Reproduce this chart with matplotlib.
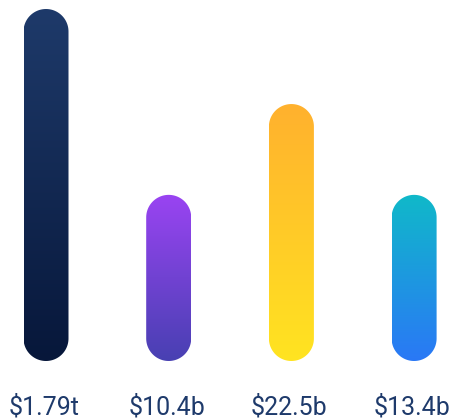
import numpy as np
import matplotlib
matplotlib.use("Agg")
import matplotlib.pyplot as plt
from matplotlib.patches import Polygon
from matplotlib.colors import to_rgb

# ---- data ----
labels = ["$1.79t", "$10.4b", "$22.5b", "$13.4b"]
heights = [100.0, 47.2, 73.0, 47.2]          # relative display heights
top_colors = ["#1e3a6a", "#9a44f2", "#ffb12e", "#10b9c9"]
bottom_colors = ["#07173a", "#4840b2", "#ffe421", "#2a78f6"]

W, H, DPI = 454, 420, 100
fig = plt.figure(figsize=(W / DPI, H / DPI), dpi=DPI)
bottom_px = 59
ax = fig.add_axes([0, bottom_px / H, 1, 1 - bottom_px / H])
ax.set_axis_off()

x0_px, step_px = 46.0, 122.7
xlim = (-x0_px / step_px, (W - x0_px) / step_px)
ymax = 100.0 * (H - bottom_px) / 352.0
ax.set_xlim(*xlim)
ax.set_ylim(0, ymax)

bar_w = 45.0 / step_px
xu_per_px = (xlim[1] - xlim[0]) / W
yu_per_px = ymax / (H - bottom_px)
rx = bar_w / 2
ry = rx / xu_per_px * yu_per_px


def pill(cx, h):
    a_top = np.linspace(0, np.pi, 60)
    a_bot = np.linspace(np.pi, 2 * np.pi, 60)
    top = np.column_stack([cx + rx * np.cos(a_top), h - ry + ry * np.sin(a_top)])
    bot = np.column_stack([cx + rx * np.cos(a_bot), ry + ry * np.sin(a_bot)])
    return np.vstack([top, bot])


n = 256
for i, (h, tc, bc) in enumerate(zip(heights, top_colors, bottom_colors)):
    patch = Polygon(pill(i, h), closed=True, facecolor="none", edgecolor="none")
    ax.add_patch(patch)
    t = np.linspace(0, 1, n)[:, None]
    c_top = np.array(to_rgb(tc))
    c_bot = np.array(to_rgb(bc))
    grad = c_top[None, :] * (1 - t) + c_bot[None, :] * t
    img = np.repeat(grad[:, None, :], 2, axis=1)
    im = ax.imshow(img, extent=[i - bar_w / 2, i + bar_w / 2, 0, h],
                   aspect="auto", interpolation="bilinear", zorder=2)
    im.set_clip_path(patch)
    ax.annotate(labels[i], xy=(i, 0), xytext=(-1.5, -38.5), textcoords="offset points",
                ha="center", va="baseline", fontsize=18, family=["Roboto", "DejaVu Sans"],
                color="#1e3a6b", annotation_clip=False)

ax.set_xlim(*xlim)
ax.set_ylim(0, ymax)
fig.savefig("out.png", dpi=DPI)
